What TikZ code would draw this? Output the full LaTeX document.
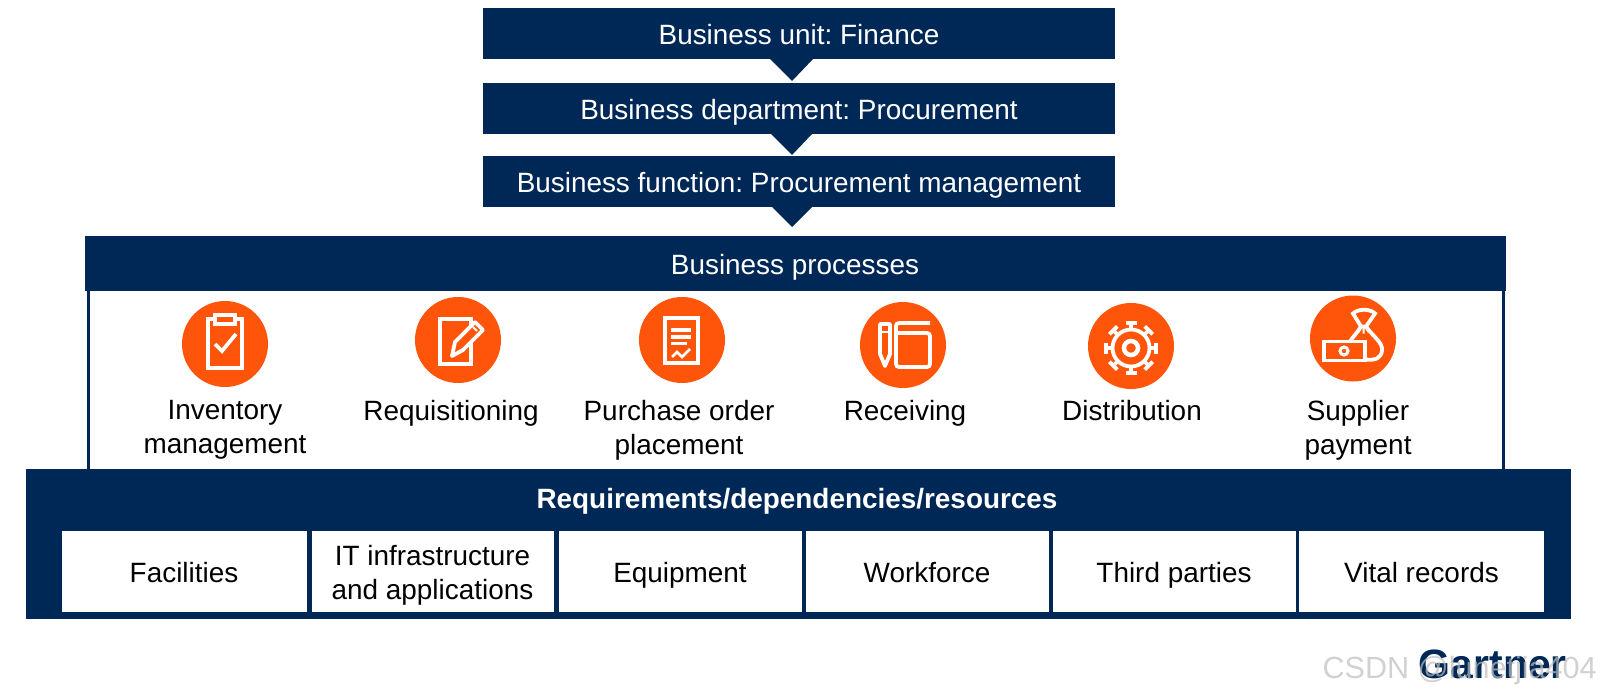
\documentclass[tikz,border=0pt]{standalone}
\usepackage{fontspec}
\setmainfont{Liberation Sans}
\usetikzlibrary{positioning,calc}
\definecolor{navy}{RGB}{0,40,86}
\definecolor{flame}{RGB}{255,85,10}
\definecolor{wmark}{RGB}{190,190,190}
\newcommand{\bigfont}{\fontsize{27.9}{33.7}\selectfont\frenchspacing}

\begin{document}
\begin{tikzpicture}[x=1pt,y=-1pt,font=\bigfont,
  bar/.style={fill=navy,text=white,inner sep=0pt,minimum width=632pt,minimum height=51pt,text height=30pt,text depth=8pt},
  wedge/.style={fill=navy},
  cell/.style={fill=white,text=black,inner sep=0pt,minimum height=81pt,align=center},
  oneline/.style={cell,text height=30pt,text depth=8pt},
  disc/.style={circle,fill=flame,minimum size=86pt,inner sep=0pt},
  tag/.style={anchor=north,align=center,text=black,inner sep=0pt,execute at begin node={\rule{0pt}{20pt}}},
  icon/.style={draw=white,line width=3.8pt},
  iconfill/.style={icon,fill=flame}]
\useasboundingbox (0,0) rectangle (1600,696);
% top stack
\node[bar] (unit) at (799,33.5) {Business unit: Finance};
\node[bar] (dept) at (799,108) {Business department: Procurement};
\node[bar] (func) at (799,181.5) {Business function: Procurement management};
\fill[wedge] (770,59) -- (813,59) -- (792,81) -- cycle;
\fill[wedge] (771,134) -- (812,134) -- (792,155) -- cycle;
\fill[wedge] (772,207) -- (812,207) -- (792,227) -- cycle;
% processes frame
\node[fill=white,draw=navy,line width=3pt,minimum width=1415pt,minimum height=190pt,inner sep=0pt] (frame) at (795.5,375) {};
\node[bar,minimum width=1421pt,minimum height=55pt] (proc) at (795,263.5) {Business processes};
% bottom panel
\node[fill=navy,inner sep=0pt,minimum width=1545pt,minimum height=150pt] (req) at (798,544) {};
\node[text=white,font=\bigfont\bfseries,inner sep=0pt,text height=30pt,text depth=8pt] (reqtitle) at (797,497) {Requirements/dependencies/resources};
\node[oneline,minimum width=245pt] (fac) at (184,571) {Facilities};
\node[cell,minimum width=242pt] (it) at (432.5,571) {\rule{0pt}{29pt}IT infrastructure\\and applications};
\node[oneline,minimum width=243pt] (equ) at (680,571) {Equipment};
\node[oneline,minimum width=243pt] (work) at (927,571) {Workforce};
\node[oneline,minimum width=243pt] (third) at (1174,571) {Third parties};
\node[oneline,minimum width=245pt] (vital) at (1421.5,571) {Vital records};
% icons
\node[disc] (inv) at (225,344) {};
\node[disc] (requ) at (458,340) {};
\node[disc] (po) at (682,340) {};
\node[disc] (rec) at (903,345) {};
\node[disc] (dist) at (1131,346) {};
\node[disc] (pay) at (1353,338.5) {};
\node[tag] (invt) at (225,400) {Inventory\\management};
\node[tag] (requt) at (451,400) {Requisitioning};
\node[tag] (pot) at (679,400) {Purchase order\\placement};
\node[tag] (rect) at (905,400) {Receiving};
\node[tag] (distt) at (1132,400) {Distribution};
\node[tag] (payt) at (1358,400) {Supplier\\payment};
% clipboard
\begin{scope}[shift={(inv.center)}]
\draw[icon] (-17,-25) rectangle (17,24);
\draw[iconfill] (-10,-29) rectangle (10,-20);
\draw[icon] (-10,0) -- (-3,7) -- (11,-10);
\end{scope}
% page and pencil
\begin{scope}[shift={(requ.center)}]
\draw[icon] (-18,-21) rectangle (13,24);
\draw[iconfill,line join=round] (-6,16) -- (-3,2) -- (17,-18) -- (25,-10) -- (5,10) -- cycle;
\draw[icon,line width=2pt] (15,-13) -- (19,-9);
\end{scope}
% order sheet
\begin{scope}[shift={(po.center)}]
\draw[icon] (-17,-22) rectangle (16,23);
\draw[icon] (-11,-10) -- (9,-10) (-11,-3) -- (9,-3) (-11,3.5) -- (5,3.5);
\draw[icon,line width=2.6pt] (-10,17) -- (-5,12) -- (0,17) -- (8,9);
\end{scope}
% pencil and book
\begin{scope}[shift={(rec.center)}]
\draw[icon,line join=round] (-23,-21) -- (-13,-21) -- (-13,9) -- (-18,21) -- (-23,9) -- cycle;
\draw[icon,line width=2.6pt] (-23,-13) -- (-13,-13);
\draw[icon,rounded corners=3pt] (27,-22) -- (-7,-22) -- (-7,22) -- (27,22) -- (27,-12) -- (-7,-12);
\end{scope}
% gear
\begin{scope}[shift={($(dist.center)+(0,2)$)}]
\draw[icon] (0,0) circle (18.5);
\draw[icon,line width=4.5pt] (0,0) circle (7);
\foreach \ang in {0,45,...,315}
  \draw[icon,rotate=\ang] (18.5,0) -- (25,0) (25,-5.5) -- (25,5.5);
\end{scope}
% money bag
\begin{scope}[shift={(pay.center)}]
\draw[icon,line join=round] (8,-12) .. controls (3,-4) and (0,-2) .. (-3,3);
\draw[icon] (13,-12) .. controls (20,-2) and (30,4) .. (29,12) .. controls (28,20) and (22,22) .. (13,21);
\draw[icon] (8,-12) -- (0,-25) .. controls (5,-30) and (17,-30) .. (22,-25) -- (13,-12) -- cycle;
\draw[icon,line width=2pt] (10.5,-12) -- (10.5,-5) (9,-12) -- (5,-6) (12,-12) -- (16,-6);
\draw[iconfill] (-29,3) rectangle (12,22);
\draw[icon,line width=3pt] (-9,12.5) circle (4);
\end{scope}
% logo and mark
\node[anchor=base east,inner sep=0pt,text=navy,font=\fontsize{41}{41}\selectfont\bfseries] (logo) at (1567,678) {Gartner};
\node[anchor=base east,inner sep=0pt,text=wmark,text opacity=0.7,font=\fontsize{30.6}{31}\selectfont] (csdn) at (1597,678) {CSDN @lunetjia404};
\end{tikzpicture}
\end{document}
